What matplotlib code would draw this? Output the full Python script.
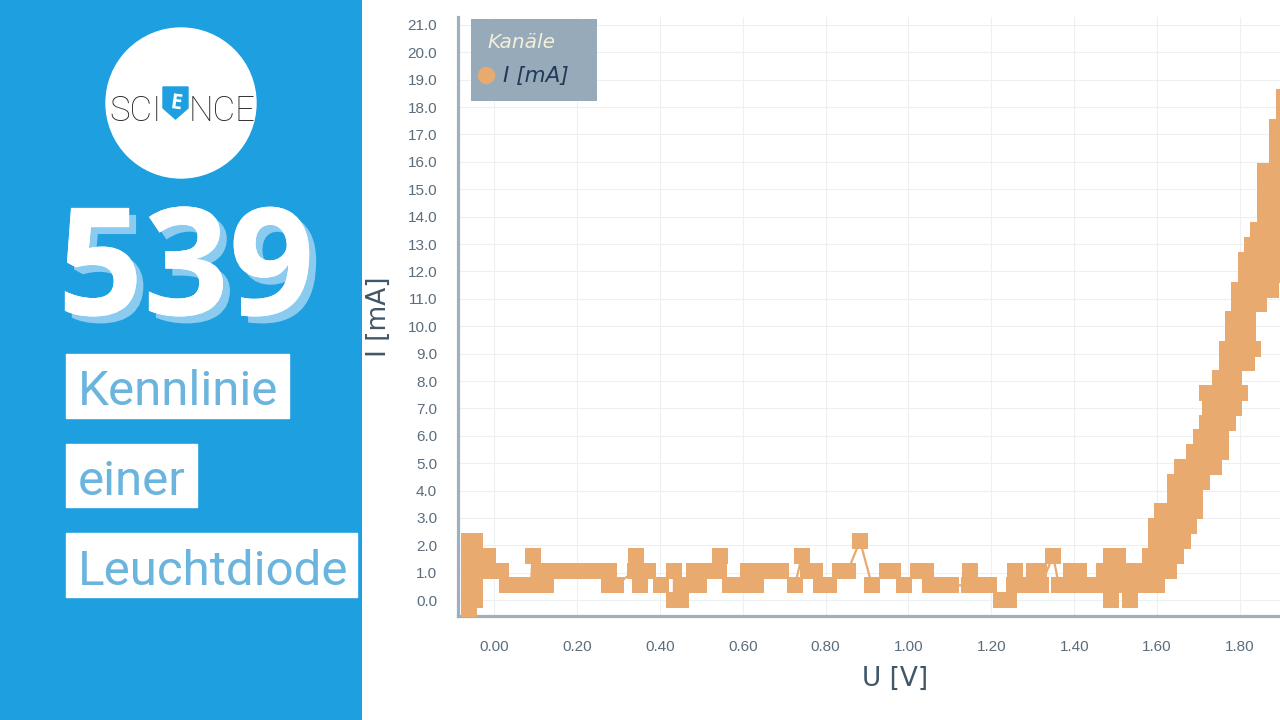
"""Kennlinie einer Leuchtdiode - title card with the I/U plot."""

import matplotlib

matplotlib.use("Agg")
import matplotlib.pyplot as plt
import matplotlib.patheffects as pe
from matplotlib.patches import Circle, Polygon, Rectangle

# --- measured values -------------------------------------------------------
# flat part below the threshold voltage (U in V, I in mA)
U_FLAT = [
    -0.060, -0.060, -0.060, -0.060, -0.060, -0.060, -0.045, -0.045, -0.045, -0.045,
    -0.045, -0.014, -0.014, 0.017, 0.031, 0.060, 0.089, 0.093, 0.111, 0.125,
    0.140, 0.169, 0.198, 0.227, 0.256, 0.278, 0.278, 0.294, 0.340, 0.343,
    0.352, 0.372, 0.403, 0.434, 0.434, 0.451, 0.451, 0.478, 0.483, 0.495,
    0.512, 0.545, 0.543, 0.569, 0.598, 0.613, 0.632, 0.647, 0.680, 0.693,
    0.726, 0.743, 0.758, 0.775, 0.789, 0.808, 0.835, 0.854, 0.883, 0.912,
    0.948, 0.963, 0.989, 1.023, 1.042, 1.052, 1.079, 1.103, 1.146, 1.149,
    1.173, 1.194, 1.223, 1.243, 1.255, 1.258, 1.286, 1.303, 1.315, 1.320,
    1.349, 1.363, 1.392, 1.395, 1.412, 1.426, 1.453, 1.472, 1.489, 1.489,
    1.489, 1.489, 1.506, 1.506, 1.520, 1.535, 1.545, 1.552,
]
I_FLAT = [
    2.16, 1.62, 1.08, 0.54, 0.00, -0.54, 0.00, 0.54, 1.08, 1.62,
    2.16, 1.62, 1.08, 1.08, 0.54, 0.54, 0.54, 1.62, 1.08, 0.54,
    1.08, 1.08, 1.08, 1.08, 1.08, 1.08, 0.54, 0.54, 1.08, 1.62,
    0.54, 1.08, 0.54, 1.08, 0.00, 0.00, 0.54, 0.54, 1.08, 0.54,
    1.08, 1.62, 1.08, 0.54, 0.54, 1.08, 0.54, 1.08, 1.08, 1.08,
    0.54, 1.62, 1.08, 1.08, 0.54, 0.54, 1.08, 1.08, 2.16, 0.54,
    1.08, 1.08, 0.54, 1.08, 1.08, 0.54, 0.54, 0.54, 0.54, 1.08,
    0.54, 0.54, 0.00, 0.00, 0.54, 1.08, 0.54, 1.08, 1.08, 0.54,
    1.62, 0.54, 1.08, 0.54, 1.08, 0.54, 0.54, 1.08, 1.62, 1.08,
    0.54, 0.00, 1.08, 1.62, 0.54, 0.00, 1.08, 0.54,
]

# steep part above the threshold
U_RISE = [
    1.583, 1.600,
    1.629, 1.612, 1.583,
    1.583, 1.614, 1.646,
    1.663, 1.629, 1.597,
    1.597, 1.626, 1.656, 1.677,
    1.692, 1.675, 1.643, 1.612,
    1.643, 1.672, 1.692,
    1.709, 1.675, 1.643,
    1.661, 1.689, 1.718, 1.737,
    1.754, 1.721, 1.689,
    1.706, 1.730, 1.754,
    1.771, 1.745, 1.721,
    1.728, 1.757, 1.786,
    1.800, 1.774, 1.747, 1.721,
    1.752, 1.786,
    1.817, 1.793, 1.769,
    1.769, 1.800, 1.832,
    1.819, 1.800, 1.783,
    1.783, 1.800, 1.819,
    1.846, 1.824, 1.798,
    1.798, 1.827, 1.856, 1.875,
    1.902, 1.873, 1.844, 1.815,
    1.815, 1.844, 1.873, 1.902,
    1.916, 1.887, 1.858, 1.829,
    1.844, 1.873, 1.902,
    1.918, 1.889, 1.861,
    1.861, 1.889, 1.918,
    1.918, 1.889, 1.861,
    1.861, 1.889, 1.918,
    1.918, 1.889,
    1.889, 1.918,
    1.918, 1.889,
    1.906, 1.935,
    1.906,
]
I_RISE = [
    0.54, 0.54,
    1.08, 1.08, 1.08,
    1.62, 1.62, 1.62,
    2.16, 2.16, 2.16,
    2.70, 2.70, 2.70, 2.70,
    3.24, 3.24, 3.24, 3.24,
    3.78, 3.78, 3.78,
    4.32, 4.32, 4.32,
    4.86, 4.86, 4.86, 4.86,
    5.40, 5.40, 5.40,
    5.94, 5.94, 5.94,
    6.48, 6.48, 6.48,
    7.02, 7.02, 7.02,
    7.56, 7.56, 7.56, 7.56,
    8.10, 8.10,
    8.64, 8.64, 8.64,
    9.18, 9.18, 9.18,
    9.72, 9.72, 9.72,
    10.26, 10.26, 10.26,
    10.80, 10.80, 10.80,
    11.34, 11.34, 11.34, 11.34,
    11.88, 11.88, 11.88, 11.88,
    12.42, 12.42, 12.42, 12.42,
    12.96, 12.96, 12.96, 12.96,
    13.50, 13.50, 13.50,
    14.04, 14.04, 14.04,
    14.58, 14.58, 14.58,
    15.12, 15.12, 15.12,
    15.66, 15.66, 15.66,
    16.20, 16.20,
    16.74, 16.74,
    17.28, 17.28,
    17.82, 17.82,
    18.36,
]

X_TICKS = [0.0, 0.2, 0.4, 0.6, 0.8, 1.0, 1.2, 1.4, 1.6, 1.8]
Y_TICKS = list(range(0, 22))
X_LABEL = "U [V]"
Y_LABEL = "I [mA]"
LEGEND_TITLE = "Kanäle"
NUMBER = "539"
TITLE_LINES = ["Kennlinie", "einer", "Leuchtdiode"]

BLUE = "#1e9fe0"
SHADOW = "#8ccbf0"
LABEL_BLUE = "#6ab4de"
ORANGE = "#e8aa6e"
SPINE = "#9fb0bd"
GRID = "#edf0f3"
TICK = "#5b6c7c"
AXLABEL = "#40576a"

# plot box in figure pixels (left, top, right, bottom); right side runs past the crop
BOX = (458, 17, 1332, 616)


def draw_panel(fig):
    side = fig.add_axes([0, 0, 362 / 1280, 1])
    side.set_xlim(0, 362)
    side.set_ylim(720, 0)
    side.axis("off")
    side.add_patch(Rectangle((0, 0), 362, 720, color=BLUE, zorder=0))

    # logo
    side.add_patch(Circle((181, 103), 75, color="white", zorder=1))
    logo = dict(family="Roboto", fontweight="light", fontsize=25, color="#2a2a2a", va="baseline", zorder=2)
    side.text(162, 121, "SCI", ha="right", **logo)
    side.text(189, 121, "NCE", ha="left", **logo)
    side.add_patch(Polygon([(163, 87), (188, 87), (188, 108), (175.5, 119), (163, 108)], color=BLUE, zorder=2))
    side.text(175.5, 103, "E", ha="center", va="center", color="white", fontsize=15,
              fontweight="bold", family="Open Sans", rotation=-8, zorder=3)

    # episode number with its light shadow
    side.text(186, 315, NUMBER, color="white", family="Open Sans", fontweight="bold",
              fontsize=108, ha="center", va="baseline", zorder=3,
              path_effects=[pe.withSimplePatchShadow(offset=(5, -5), shadow_rgbFace=SHADOW, alpha=1.0),
                            pe.Normal()])

    # title boxes
    boxes = [(354, 418, 289, 405), (444, 507, 197, 495), (533, 597, 357, 585)]
    for line, (top, bottom, right, base) in zip(TITLE_LINES, boxes):
        side.add_patch(Rectangle((66, top), right - 66, bottom - top, color="white", zorder=2))
        side.text(78, base, line, family="Roboto", fontweight="normal", fontsize=35.5,
                  color=LABEL_BLUE, ha="left", va="baseline", zorder=3)


def draw_plot(fig):
    left, top, right, bottom = BOX
    ax = fig.add_axes([left / 1280, 1 - bottom / 720, (right - left) / 1280, (bottom - top) / 720])
    ax.plot(U_FLAT + U_RISE, I_FLAT + I_RISE, color=ORANGE, linewidth=1.6, marker="s",
            markersize=11.0, markeredgewidth=0, zorder=3)
    ax.set_xlim(-0.087, 2.022)
    ax.set_ylim(-0.58, 21.29)

    ax.set_xticks(X_TICKS, [f"{v:.2f}" for v in X_TICKS])
    ax.set_yticks(Y_TICKS, [f"{v:.1f}" for v in Y_TICKS])
    ax.tick_params(length=0, colors=TICK, labelsize=11)
    ax.tick_params(axis="x", pad=17)
    ax.tick_params(axis="y", pad=15)
    for label in ax.get_xticklabels() + ax.get_yticklabels():
        label.set_family("Liberation Sans")
    ax.grid(True, color=GRID, linewidth=0.8)
    ax.set_axisbelow(True)

    for name in ("top", "right"):
        ax.spines[name].set_visible(False)
    for name in ("left", "bottom"):
        ax.spines[name].set_color(SPINE)
        ax.spines[name].set_linewidth(2.3)

    ax.set_xlabel(X_LABEL, fontsize=19, color=AXLABEL)
    ax.set_ylabel(Y_LABEL, fontsize=19, color=AXLABEL)
    ax.xaxis.set_label_coords(0.5, -0.083)
    ax.yaxis.set_label_coords(-0.0755, 0.5)

    # channel legend box in the upper left corner
    def frac(px, py):
        return (px - left) / (right - left), (bottom - py) / (bottom - top)

    x0, y1 = frac(471, 19)
    x1, y0 = frac(597, 101)
    ax.add_patch(Rectangle((x0, y0), x1 - x0, y1 - y0, transform=ax.transAxes,
                           facecolor="#92a6b6", alpha=0.95, edgecolor="none", zorder=6, clip_on=False))
    ax.text(*frac(487, 43), LEGEND_TITLE, transform=ax.transAxes, style="italic", fontsize=14.5,
            color="#f4eedb", ha="left", va="center", zorder=7)
    ax.plot(*frac(486, 75), transform=ax.transAxes, marker="o", markersize=11.5, color=ORANGE,
            linestyle="none", zorder=7, clip_on=False)
    ax.text(*frac(503, 76), Y_LABEL, transform=ax.transAxes, style="italic", fontsize=15.5,
            color="#1f3b57", ha="left", va="center", zorder=7)


def main():
    fig = plt.figure(figsize=(12.8, 7.2), dpi=100)
    fig.patch.set_facecolor("white")
    draw_panel(fig)
    draw_plot(fig)
    fig.savefig("out.png", dpi=100)


if __name__ == "__main__":
    main()
